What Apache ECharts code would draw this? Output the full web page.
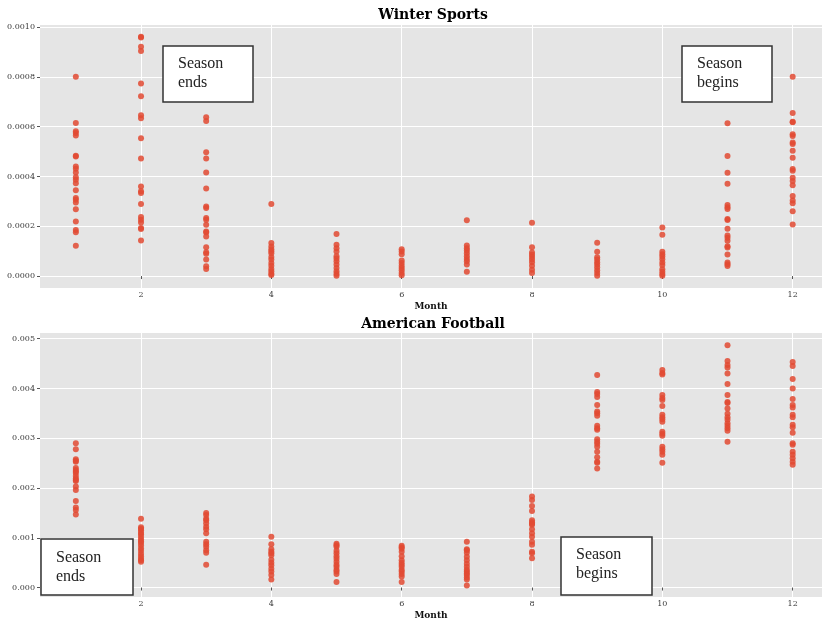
<!DOCTYPE html>
<html>
<head>
<meta charset="utf-8">
<script src="https://cdn.jsdelivr.net/npm/echarts@6/dist/echarts.min.js"></script>
<style>
  html, body { margin: 0; padding: 0; background: #fff; }
  #chart { width: 822px; height: 623px; }
</style>
</head>
<body>
<div id="chart"></div>
<script>
// months on the x axis
const months = [1, 2, 3, 4, 5, 6, 7, 8, 9, 10, 11, 12]
const monthTicks = [2, 4, 6, 8, 10, 12]
const winterTicks = [0, 0.0002, 0.0004, 0.0006, 0.0008, 0.0010]
const footballTicks = [0, 0.001, 0.002, 0.003, 0.004, 0.005]

// Winter Sports, one list per month
const winterSports = [
  [0.00080, 0.000615, 0.000581, 0.000574, 0.000564, 0.000483, 0.000480, 0.000440, 0.000431, 0.000416, 0.000397, 0.000387, 0.000373, 0.000344, 0.000313, 0.000306, 0.000295, 0.000268, 0.000219, 0.000185, 0.000176, 0.000122],
  [0.000961, 0.000958, 0.000921, 0.000904, 0.000773, 0.000722, 0.000646, 0.000634, 0.000553, 0.000472, 0.000360, 0.000340, 0.000333, 0.000289, 0.000237, 0.000226, 0.000215, 0.000193, 0.000189, 0.000143],
  [0.000638, 0.000623, 0.000497, 0.000472, 0.000416, 0.000352, 0.000279, 0.000273, 0.000233, 0.000226, 0.000206, 0.000179, 0.000175, 0.000159, 0.000116, 0.000096, 0.000090, 0.000066, 0.000039, 0.000028],
  [0.000289, 0.000133, 0.000119, 0.000108, 0.000100, 0.000092, 0.000076, 0.000066, 0.000052, 0.000041, 0.000028, 0.000019, 0.000009, 0.000004],
  [0.000169, 0.000126, 0.000112, 0.000099, 0.000079, 0.000070, 0.000059, 0.000046, 0.000032, 0.000019, 0.000009, 0.000001],
  [0.000108, 0.000099, 0.000088, 0.000062, 0.000052, 0.000041, 0.000032, 0.000023, 0.000012, 0.000003],
  [0.000224, 0.000123, 0.000112, 0.000103, 0.000092, 0.000079, 0.000068, 0.000059, 0.000046, 0.000017],
  [0.000214, 0.000116, 0.000095, 0.000086, 0.000076, 0.000066, 0.000055, 0.000041, 0.000025, 0.000012],
  [0.000134, 0.000098, 0.000075, 0.000066, 0.000055, 0.000046, 0.000035, 0.000023, 0.000012, 0.000001],
  [0.000195, 0.000166, 0.000098, 0.000088, 0.000078, 0.000067, 0.000054, 0.000044, 0.000027, 0.000017, 0.000008, 0.000001],
  [0.000614, 0.000482, 0.000415, 0.000371, 0.000285, 0.000276, 0.000269, 0.000229, 0.000225, 0.000190, 0.000163, 0.000154, 0.000142, 0.000120, 0.000115, 0.000087, 0.000054, 0.000047, 0.000040],
  [0.000800, 0.000655, 0.000620, 0.000618, 0.000569, 0.000562, 0.000536, 0.000530, 0.000503, 0.000475, 0.000430, 0.000423, 0.000395, 0.000382, 0.000365, 0.000321, 0.000303, 0.000292, 0.000260, 0.000207]
]

// American Football, one list per month
const americanFootball = [
  [0.00290, 0.00278, 0.00258, 0.00255, 0.00253, 0.00240, 0.00236, 0.00233, 0.00230, 0.00224, 0.00219, 0.00216, 0.00214, 0.00203, 0.00196, 0.00174, 0.00161, 0.00156, 0.00147],
  [0.00138, 0.00121, 0.00118, 0.00115, 0.00110, 0.00107, 0.00102, 0.00097, 0.00093, 0.00090, 0.00085, 0.00079, 0.00074, 0.00068, 0.00063, 0.00058, 0.00055, 0.00052],
  [0.00150, 0.00146, 0.00138, 0.00135, 0.00129, 0.00122, 0.00117, 0.00109, 0.00092, 0.00087, 0.00082, 0.00075, 0.00070, 0.00046],
  [0.00102, 0.00087, 0.00077, 0.00072, 0.00069, 0.00065, 0.00056, 0.00050, 0.00045, 0.00038, 0.00032, 0.00025, 0.00016],
  [0.00088, 0.00085, 0.00082, 0.00074, 0.00069, 0.00063, 0.00058, 0.00052, 0.00046, 0.00042, 0.00036, 0.00032, 0.00027, 0.00011],
  [0.00084, 0.00081, 0.00078, 0.00072, 0.00063, 0.00055, 0.00050, 0.00046, 0.00042, 0.00036, 0.00032, 0.00027, 0.00022, 0.00011],
  [0.00092, 0.00077, 0.00075, 0.00070, 0.00062, 0.00055, 0.00048, 0.00042, 0.00036, 0.00032, 0.00028, 0.00025, 0.00020, 0.00016, 0.00004],
  [0.00183, 0.00176, 0.00164, 0.00154, 0.00135, 0.00131, 0.00128, 0.00126, 0.00117, 0.00109, 0.00102, 0.00092, 0.00086, 0.00072, 0.00069, 0.00059],
  [0.00427, 0.00393, 0.00389, 0.00383, 0.00367, 0.00354, 0.00350, 0.00345, 0.00325, 0.00320, 0.00317, 0.00298, 0.00293, 0.00289, 0.00283, 0.00273, 0.00262, 0.00253, 0.00251, 0.00239],
  [0.00437, 0.00431, 0.00428, 0.00387, 0.00381, 0.00377, 0.00365, 0.00347, 0.00342, 0.00338, 0.00333, 0.00313, 0.00309, 0.00305, 0.00283, 0.00278, 0.00273, 0.00267, 0.00251],
  [0.00487, 0.00455, 0.00447, 0.00442, 0.00430, 0.00409, 0.00387, 0.00373, 0.00371, 0.00360, 0.00349, 0.00342, 0.00337, 0.00330, 0.00325, 0.00320, 0.00315, 0.00293],
  [0.00453, 0.00445, 0.00419, 0.00400, 0.00379, 0.00367, 0.00362, 0.00347, 0.00342, 0.00327, 0.00322, 0.00311, 0.00290, 0.00287, 0.00273, 0.00267, 0.00260, 0.00253, 0.00247]
]

function toPoints (lists) {
  let pts = []
  lists.forEach((vals, i) => {
    vals.forEach(v => pts.push([months[i], v]))
  })
  return pts
}

const tickFont = { fontFamily: 'DejaVu Serif', fontSize: 8, color: '#3a3a3a' }
const dotColor = '#E24A33'

function xAxisFor (gridIndex) {
  return {
    gridIndex: gridIndex,
    type: 'value',
    min: 0.45,
    max: 12.45,
    name: 'Month',
    nameLocation: 'middle',
    nameGap: 14,
    nameTextStyle: { fontFamily: 'DejaVu Serif', fontWeight: 'bold', fontSize: 9, color: '#111' },
    axisLine: { show: false },
    axisTick: { show: true, length: 3, customValues: monthTicks, lineStyle: { color: '#555' } },
    axisLabel: Object.assign({ customValues: monthTicks, margin: 3 }, tickFont),
    splitLine: { show: true, lineStyle: { color: '#fff', width: 1 } }
  }
}

function yAxisFor (gridIndex, min, max, ticks, digits) {
  return {
    gridIndex: gridIndex,
    type: 'value',
    min: min,
    max: max,
    axisLine: { show: false },
    axisTick: { show: true, length: 3, customValues: ticks, lineStyle: { color: '#555' } },
    axisLabel: Object.assign({
      customValues: ticks,
      margin: 5,
      formatter: v => v.toFixed(digits)
    }, tickFont),
    splitLine: { show: true, lineStyle: { color: '#fff', width: 1 } }
  }
}

function noteBox (x, y, w, h, textX, textY, text) {
  return [
    {
      type: 'rect',
      z: 100,
      shape: { x: x, y: y, width: w, height: h },
      style: { fill: '#fff', stroke: '#333', lineWidth: 1.5 }
    },
    {
      type: 'text',
      z: 101,
      x: textX,
      y: textY,
      style: {
        text: text,
        fontFamily: 'Liberation Serif',
        fontSize: 16,
        lineHeight: 19,
        fill: '#222'
      }
    }
  ]
}

function titleText (y, text) {
  return {
    type: 'text',
    x: 433,
    y: y,
    style: {
      text: text,
      align: 'center',
      verticalAlign: 'middle',
      fontFamily: 'DejaVu Serif',
      fontWeight: 'bold',
      fontSize: 14,
      fill: '#000'
    }
  }
}

const chart = echarts.init(document.getElementById('chart'), null, { renderer: 'canvas' })

const option = {
  animation: false,
  backgroundColor: '#fff',
  grid: [
    { left: 40, top: 25, width: 782, height: 263, show: true, backgroundColor: '#E5E5E5', borderWidth: 0 },
    { left: 40, top: 333, width: 782, height: 264, show: true, backgroundColor: '#E5E5E5', borderWidth: 0 }
  ],
  xAxis: [xAxisFor(0), xAxisFor(1)],
  yAxis: [
    yAxisFor(0, -0.000048, 0.001008, winterTicks, 4),
    yAxisFor(1, -0.00019, 0.005115, footballTicks, 3)
  ],
  series: [
    {
      name: 'Winter Sports',
      type: 'scatter',
      xAxisIndex: 0,
      yAxisIndex: 0,
      symbolSize: 6,
      itemStyle: { color: dotColor, opacity: 0.85 },
      data: toPoints(winterSports)
    },
    {
      name: 'American Football',
      type: 'scatter',
      xAxisIndex: 1,
      yAxisIndex: 1,
      symbolSize: 6,
      itemStyle: { color: dotColor, opacity: 0.85 },
      data: toPoints(americanFootball)
    }
  ],
  graphic: [
    titleText(15, 'Winter Sports'),
    titleText(324, 'American Football')
  ].concat(
    noteBox(163, 46, 90, 56, 178, 54, 'Season\nends'),
    noteBox(682, 46, 90, 56, 697, 54, 'Season\nbegins'),
    noteBox(41, 539, 92, 56, 56, 548, 'Season\nends'),
    noteBox(561, 537, 91, 58, 576, 545, 'Season\nbegins')
  )
}

chart.setOption(option)
</script>
</body>
</html>
